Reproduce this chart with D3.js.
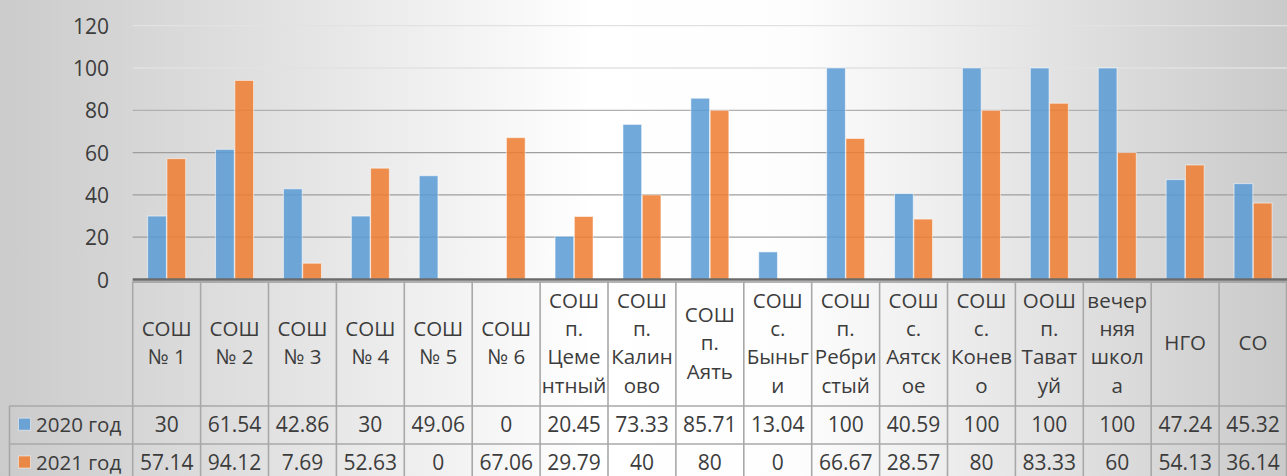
<!DOCTYPE html>
<html><head><meta charset="utf-8">
<script src="https://cdn.jsdelivr.net/npm/d3@7"></script>
<style>html,body{margin:0;padding:0;overflow:hidden;background:#fff}svg{display:block}</style>
</head><body>
<svg id="chart" width="1287" height="476"></svg>
<script>
const categories = [
  ["СОШ","№ 1"],["СОШ","№ 2"],["СОШ","№ 3"],["СОШ","№ 4"],["СОШ","№ 5"],["СОШ","№ 6"],
  ["СОШ","п.","Цеме","нтный"],["СОШ","п.","Калин","ово"],["СОШ","п.","Аять"],
  ["СОШ","с.","Быньг","и"],["СОШ","п.","Ребри","стый"],["СОШ","с.","Аятск","ое"],
  ["СОШ","с.","Конев","о"],["ООШ","п.","Тават","уй"],["вечер","няя","школ","а"],
  ["НГО"],["СО"]
];
const seriesNames = ["2020 год", "2021 год"];
const values2020 = [30, 61.54, 42.86, 30, 49.06, 0, 20.45, 73.33, 85.71, 13.04, 100, 40.59, 100, 100, 100, 47.24, 45.32];
const values2021 = [57.14, 94.12, 7.69, 52.63, 0, 67.06, 29.79, 40, 80, 0, 66.67, 28.57, 80, 83.33, 60, 54.13, 36.14];
const yTicks = [0, 20, 40, 60, 80, 100, 120];
const colors = ["#5B9BD5", "#ED7D31"];

const W = 1287, H = 476;
const svg = d3.select("#chart");
const font = "'Open Sans', 'Noto Sans', sans-serif";
const textColor = "#3c3c3c";

// background gradient
const defs = svg.append("defs");
const bg = defs.append("linearGradient").attr("id", "bg").attr("x1", "0%").attr("y1", "0%").attr("x2", "100%").attr("y2", "0%");
[[0, "#cbcbcb"], [0.2, "#e0e0e0"], [0.46, "#ffffff"], [0.62, "#fdfdfd"], [0.82, "#e2e2e2"], [1, "#cacaca"]]
  .forEach(([o, c]) => bg.append("stop").attr("offset", o).attr("stop-color", c));
svg.append("rect").attr("width", W).attr("height", H).attr("fill", "url(#bg)");

const keys = categories.map(c => c.join(" "));
const x = d3.scaleBand().domain(keys).range([132.7, 1287]).paddingInner(0).paddingOuter(0);
const step = x.bandwidth();
const x1 = d3.scaleBand().domain(seriesNames).range([step / 2 - 19, step / 2 + 19]).paddingInner(0.03);
const y = d3.scaleLinear().domain([0, 120]).range([279.5, 25.7]);

// gridlines
const gridColor = v => v >= 100 ? "#e2e2e2" : (v >= 80 ? "#b0b0b0" : "#9e9e9e");
svg.append("g").selectAll("line").data(yTicks.filter(t => t > 0)).join("line")
  .attr("x1", 132.7).attr("x2", W)
  .attr("y1", d => y(d)).attr("y2", d => y(d))
  .attr("stroke", d => gridColor(d)).attr("stroke-width", 1.3);

// y axis labels
const yAxis = d3.axisLeft(y).tickValues(yTicks).tickSize(0).tickPadding(0);
const ya = svg.append("g").attr("transform", "translate(109,0)").call(yAxis);
ya.select(".domain").remove();
ya.selectAll("text").attr("font-family", font).attr("font-size", 21).attr("fill", textColor)
  .attr("dy", "0.36em");

// bars
const data = [values2020, values2021];
const groups = svg.append("g").selectAll("g").data(categories).join("g")
  .attr("transform", (c, i) => `translate(${x(keys[i])},0)`);
groups.selectAll("rect").data((c, i) => seriesNames.map((s, k) => ({s, k, v: data[k][i]})))
  .join("rect")
  .attr("x", d => x1(d.s)).attr("width", x1.bandwidth())
  .attr("y", d => y(d.v)).attr("height", d => y(0) - y(d.v))
  .attr("fill", d => colors[d.k]).attr("fill-opacity", 0.86)
  .attr("stroke", "#ffffff").attr("stroke-opacity", 0.55).attr("stroke-width", 1)
  .style("display", d => d.v > 0 ? null : "none");

// data table
const tableTop = 281.5, headerBottom = 406, row1Bottom = 444, row2Bottom = 482;
const lineColor = "#a8a8a8";
const tg = svg.append("g");
[headerBottom, row1Bottom, row2Bottom].forEach(yy =>
  tg.append("line").attr("x1", 9.5).attr("x2", W).attr("y1", yy).attr("y2", yy)
    .attr("stroke", lineColor).attr("stroke-width", 1.6));
tg.append("line").attr("x1", 132.7).attr("x2", W).attr("y1", tableTop + 0.5).attr("y2", tableTop + 0.5)
  .attr("stroke", "#9a9a9a").attr("stroke-width", 1.5);
const vx = keys.map(k => x(k)).concat([W - 0.5]);
tg.selectAll("line.v").data(vx).join("line").attr("class", "v")
  .attr("x1", d => d).attr("x2", d => d).attr("y1", tableTop).attr("y2", row2Bottom)
  .attr("stroke", lineColor).attr("stroke-width", 1.6);
tg.append("line").attr("x1", 9.5).attr("x2", 9.5).attr("y1", headerBottom).attr("y2", row2Bottom)
  .attr("stroke", lineColor).attr("stroke-width", 1.6);

// zero axis line
svg.append("line").attr("x1", 132.7).attr("x2", W).attr("y1", y(0)).attr("y2", y(0))
  .attr("stroke", "#6b6b6b").attr("stroke-width", 2.4);

// header text
const lineH = 28.3, capH = 14.5, headerCenter = 343;
categories.forEach((lines, i) => {
  const cx = x(keys[i]) + step / 2;
  const n = lines.length;
  lines.forEach((ln, j) => {
    svg.append("text").attr("x", cx)
      .attr("y", headerCenter + capH / 2 + (j - (n - 1) / 2) * lineH)
      .attr("text-anchor", "middle").attr("font-family", font).attr("font-size", 20.5)
      .attr("fill", textColor).text(ln);
  });
});

// value rows
const rowBase = [431.7, 469.5];
data.forEach((vals, k) => {
  vals.forEach((v, i) => {
    svg.append("text").attr("x", x(keys[i]) + step / 2).attr("y", rowBase[k])
      .attr("text-anchor", "middle").attr("font-family", font).attr("font-size", 21)
      .attr("fill", textColor).text(String(v));
  });
  svg.append("rect").attr("x", 18.5).attr("y", rowBase[k] - 13.5).attr("width", 12).attr("height", 12)
    .attr("fill", colors[k]).attr("fill-opacity", 0.86).attr("stroke", "#fff").attr("stroke-opacity", 0.5);
  svg.append("text").attr("x", 36).attr("y", rowBase[k]).attr("font-family", font).attr("font-size", 20.5)
    .attr("fill", textColor).text(seriesNames[k]);
});
</script>
</body></html>
